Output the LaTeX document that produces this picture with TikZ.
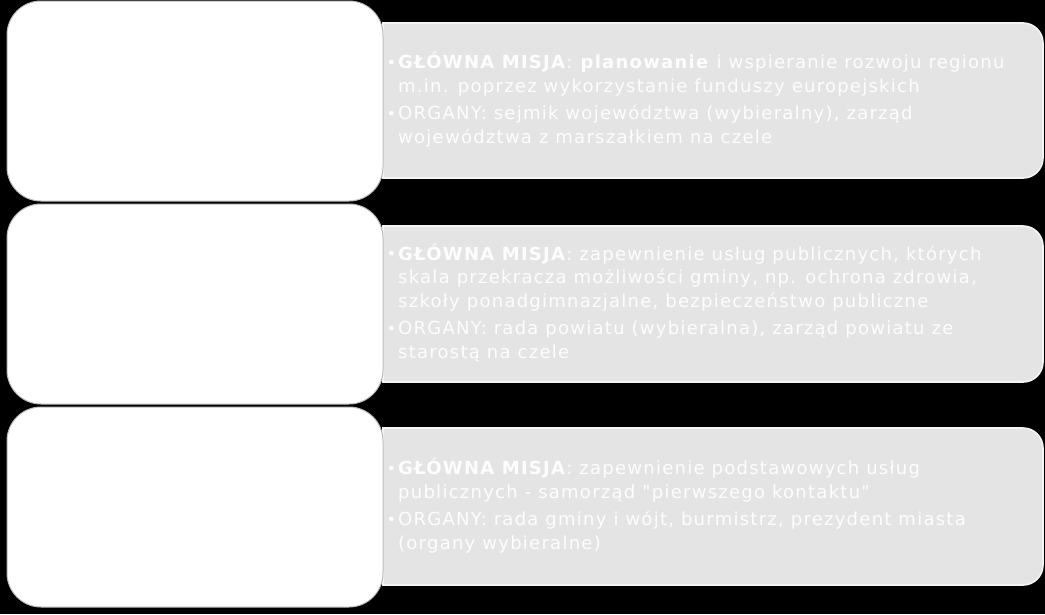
\documentclass[tikz,border=0pt]{standalone}
\usepackage{fontspec}
\setmainfont{DejaVu Sans}[LetterSpace=7,Ligatures=TeXOff]
\definecolor{panelgray}{HTML}{E4E4E4}
\definecolor{paneltext}{HTML}{FDFDFD}
\definecolor{panelline}{HTML}{F4F4F4}
\newcommand{\mybul}{\llap{\raisebox{0.5pt}{\scalebox{0.9}{•}}\hspace{2pt}}}
\newcommand{\firstline}[1]{\hbox{\mybul #1}}
\newcommand{\nextline}[1]{\hbox{#1}}
\newcommand{\bulletgap}{\vskip 3.6pt}
\begin{document}
\begin{tikzpicture}[x=1pt,y=-1pt,
  leftbox/.style={fill=white,draw=gray!55,line width=1pt,rounded corners=34pt},
  rightbox/.style={fill=panelgray,draw=panelline,line width=1.6pt},
  infotext/.style={anchor=base west,inner sep=0pt,text=paneltext,
    font=\fontsize{18}{23.7}\selectfont}]
\fill[black] (0,0) rectangle (1045,614);
\useasboundingbox (0,0) rectangle (1045,614);
% right panels
\draw[rightbox] (383,23) -- (1023,23) arc[start angle=-90,end angle=0,radius=20] -- (1043,158) arc[start angle=0,end angle=90,radius=20] -- (383,178) -- cycle;
\draw[rightbox] (383,226) -- (1023,226) arc[start angle=-90,end angle=0,radius=20] -- (1043,362) arc[start angle=0,end angle=90,radius=20] -- (383,382) -- cycle;
\draw[rightbox] (383,428) -- (1023,428) arc[start angle=-90,end angle=0,radius=20] -- (1043,565) arc[start angle=0,end angle=90,radius=20] -- (383,585) -- cycle;
% left boxes
\draw[leftbox] (7,1) rectangle (383,201);
\draw[leftbox] (7,204) rectangle (383,404);
\draw[leftbox] (7,407) rectangle (383,607);
% texts
\node[infotext] (t1) at (398,68.7) {\vtop{\baselineskip=23.7pt
\firstline{\textbf{GŁÓWNA MISJA}: \textbf{planowanie} i wspieranie rozwoju regionu}
\nextline{m.in. poprzez wykorzystanie funduszy europejskich}
\bulletgap
\firstline{ORGANY: sejmik województwa (wybieralny), zarząd}
\nextline{województwa z marszałkiem na czele}}};
\node[infotext] (t2) at (398,260) {\vtop{\baselineskip=23.7pt
\firstline{\textbf{GŁÓWNA MISJA}: zapewnienie usług publicznych, których}
\nextline{skala przekracza możliwości gminy, np. ochrona zdrowia,}
\nextline{szkoły ponadgimnazjalne, bezpieczeństwo publiczne}
\bulletgap
\firstline{ORGANY: rada powiatu (wybieralna), zarząd powiatu ze}
\nextline{starostą na czele}}};
\node[infotext] (t3) at (398,474.5) {\vtop{\baselineskip=23.7pt
\firstline{\textbf{GŁÓWNA MISJA}: zapewnienie podstawowych usług}
\nextline{publicznych - samorząd "pierwszego kontaktu"}
\bulletgap
\firstline{ORGANY: rada gminy i wójt, burmistrz, prezydent miasta}
\nextline{(organy wybieralne)}}};
\end{tikzpicture}
\end{document}
